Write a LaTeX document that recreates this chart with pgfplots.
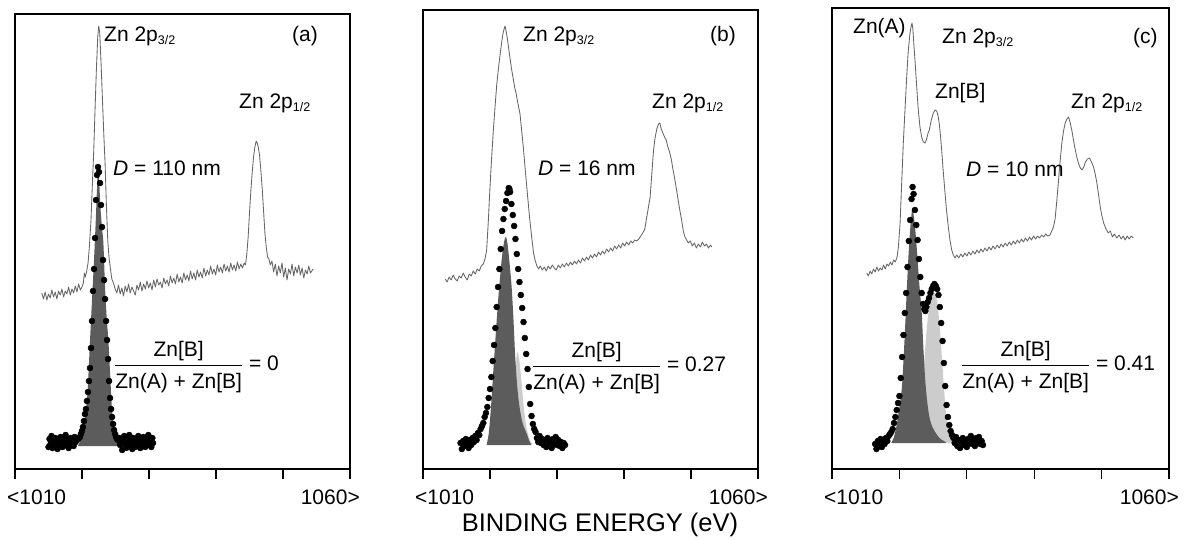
\documentclass[border=0pt]{standalone}
\usepackage{fontspec}
\setmainfont{Liberation Sans}
\usepackage{pgfplots}
\pgfplotsset{compat=1.18}

\definecolor{specline}{gray}{0.40}
\definecolor{darkfill}{gray}{0.36}
\definecolor{lightfill}{gray}{0.80}

\pgfplotsset{
  panel/.style={
    anchor=south west, scale only axis, width=335pt,
    xmin=1010, xmax=1060, ymin=0,
    xtick={1010,1020,...,1060}, xticklabels={}, ytick=\empty,
    xtick pos=left, tick align=outside, major tick length=10pt,
    xtick style={line width=1.3pt, black},
    axis line style={line width=2.4pt, black},
    clip=false,
  },
  spec/.style={specline, line width=0.85pt, line join=round, mark=none},
  dots/.style={only marks, mark=*, mark size=3pt, black},
  dark/.style={fill=darkfill, draw=none, mark=none},
  light/.style={fill=lightfill, draw=none, mark=none},
}
\newcommand{\sub}[1]{\raisebox{-0.3ex}{\fontsize{12.5}{13}\selectfont #1}}
\newcommand{\ratio}{$\displaystyle\frac{\mbox{Zn[B]}\rule[-3pt]{0pt}{3pt}}{\rule{0pt}{22pt}\mbox{Zn(A) + Zn[B]}}$}

\begin{document}
\begin{tikzpicture}[x=1pt, y=1pt,
  every node/.style={inner sep=0pt, font=\fontsize{21}{25}\selectfont}]
\useasboundingbox (0,0) rectangle (1186,-539);

% ---------------- (a) D = 110 nm
\begin{axis}[panel, at={(15pt,-469pt)}, height=455pt, ymax=455]
\addplot[spec] coordinates {
(1014.0,176)(1014.25,170)(1014.5,177)(1014.75,169)(1015.0,175)(1015.25,171)(1015.5,179)(1015.75,172)
(1016.0,177)(1016.25,170)(1016.5,178)(1016.75,174)(1017.0,180)(1017.25,172)(1017.5,178)(1017.75,175)
(1018.0,182)(1018.25,174)(1018.5,180)(1018.75,176)(1019.0,183)(1019.25,177)(1019.5,185)(1019.75,179)
(1020.0,182)(1020.2,186)(1020.35,196)(1020.5,192)
(1020.7,198)(1020.9,206)(1021.1,222)(1021.35,250)(1021.55,285)(1021.75,318)(1021.95,360)(1022.15,400)
(1022.35,432)(1022.5,443)(1022.65,436)(1022.85,405)(1023.05,370)(1023.25,335)(1023.45,305)(1023.65,262)
(1023.85,228)(1024.05,210)(1024.25,200)(1024.45,190)(1024.7,186)(1024.95,180)
(1025.2,176)(1025.45,184)(1025.7,175)(1025.95,181)(1026.2,173)(1026.45,183)(1026.7,177)(1026.95,185)
(1027.2,176)(1027.45,182)(1027.7,178)(1027.95,174)(1028.2,184)(1028.45,179)(1028.7,187)(1028.95,178)
(1029.2,185)(1029.45,180)(1029.7,188)(1029.95,181)(1030.2,186)(1030.45,179)(1030.7,189)(1030.95,182)
(1031.2,190)(1031.45,184)(1031.7,187)(1031.95,181)(1032.2,191)(1032.45,185)(1032.7,189)(1032.95,183)
(1033.2,193)(1033.45,186)(1033.7,191)(1033.95,185)(1034.2,195)(1034.45,187)(1034.7,192)(1034.95,186)
(1035.2,196)(1035.45,189)(1035.7,194)(1035.95,188)(1036.2,198)(1036.45,190)(1036.7,196)(1036.95,189)
(1037.2,199)(1037.45,192)(1037.7,197)(1037.95,191)(1038.2,201)(1038.45,193)(1038.7,199)(1038.95,194)
(1039.2,203)(1039.45,195)(1039.7,200)(1039.95,194)(1040.2,204)(1040.45,197)(1040.7,202)(1040.95,196)
(1041.2,205)(1041.45,198)(1041.7,203)(1041.95,197)(1042.2,206)(1042.45,199)(1042.7,204)(1042.95,198)
(1043.2,207)(1043.45,200)(1043.7,205)(1043.95,201)(1044.2,206)(1044.4,204)
(1044.6,215)(1044.8,232)(1045.0,256)(1045.2,278)(1045.4,296)(1045.6,312)(1045.8,322)
(1046.0,328)(1046.15,326)(1046.3,322)(1046.5,314)(1046.7,298)(1046.9,280)(1047.1,258)(1047.3,236)
(1047.5,222)(1047.7,212)(1047.9,210)
(1048.1,204)(1048.35,208)(1048.6,197)(1048.85,205)(1049.1,193)(1049.35,203)(1049.6,196)(1049.85,206)
(1050.1,192)(1050.35,201)(1050.6,189)(1050.85,200)(1051.1,195)(1051.35,205)(1051.6,193)(1051.85,202)
(1052.1,196)(1052.35,204)(1052.6,194)(1052.85,201)(1053.1,191)(1053.35,199)(1053.6,195)(1053.85,203)
(1054.1,196)(1054.5,200)};
\addplot[dark, smooth] coordinates {
(1019.4,23)(1019.8,30)(1020.2,40)(1020.5,55)(1020.8,74)(1021.0,100)(1021.2,129)(1021.5,170)
(1021.8,210)(1022.05,248)(1022.25,282)(1022.4,300)(1022.55,290)(1022.75,262)(1023.0,240)(1023.2,225)
(1023.45,180)(1023.7,150)(1023.95,127)(1024.2,95)(1024.45,62)(1024.7,46)(1025.0,36)(1025.5,30)
(1026.2,26)(1027.0,23)};
\addplot[dots] coordinates {
(1015.0,22)(1015.15,30)(1015.3,25)(1015.45,33)(1015.6,21)(1015.75,28)(1015.9,24)(1016.05,31)
(1016.2,26)(1016.35,20)(1016.5,29)(1016.65,25)(1016.8,32)(1016.95,27)(1017.1,22)(1017.25,30)
(1017.4,26)(1017.55,34)(1017.7,24)(1017.85,29)(1018.0,21)(1018.15,27)(1018.3,31)(1018.45,25)
(1018.6,29)(1018.75,23)(1018.9,32)(1019.05,27)(1019.2,31)
(1019.39,30)(1019.54,31)(1019.69,32)(1019.84,35)(1019.99,38)(1020.14,42)(1020.29,48)(1020.44,55)
(1020.59,60)(1020.74,68)(1020.89,77)(1021.04,88)(1021.19,101)(1021.34,121)(1021.49,148)(1021.64,178)
(1021.79,200)(1021.94,231)(1022.09,269)(1022.24,294)(1022.39,302)(1022.54,297)(1022.69,286)(1022.84,264)
(1022.99,242)(1023.14,209)(1023.29,189)(1023.44,170)(1023.59,148)(1023.74,129)(1023.89,110)(1024.04,88)
(1024.19,71)(1024.34,60)(1024.49,52)(1024.64,45)(1024.79,39)(1024.94,35)(1025.09,32)(1025.24,30)
(1025.39,29)
(1025.55,31)(1025.7,24)(1025.85,29)(1026.0,19)(1026.15,27)(1026.3,33)(1026.45,25)(1026.6,21)
(1026.75,30)(1026.9,26)(1027.05,34)(1027.2,23)(1027.35,28)(1027.5,20)(1027.65,31)(1027.8,26)
(1027.95,22)(1028.1,30)(1028.25,25)(1028.4,33)(1028.55,27)(1028.7,21)(1028.85,29)(1029.0,24)
(1029.15,32)(1029.3,26)(1029.45,22)(1029.6,30)(1029.75,27)(1029.9,34)(1030.05,24)(1030.2,29)
(1030.35,22)(1030.5,31)(1030.6,26)};
\end{axis}

% ---------------- (b) D = 16 nm
\begin{axis}[panel, at={(423pt,-469pt)}, height=459pt, ymax=459]
\addplot[spec] coordinates {
(1013.3,190)(1013.6,187)(1013.9,192)(1014.2,189)(1014.5,194)(1014.8,190)(1015.1,188)(1015.4,193)
(1015.7,191)(1016.0,196)(1016.3,192)(1016.6,189)(1016.9,195)(1017.2,193)(1017.5,198)(1017.8,195)
(1018.1,200)(1018.4,198)(1018.7,203)(1019.0,205)(1019.25,210)(1019.5,219)(1019.75,248)(1020.0,282)
(1020.25,312)(1020.5,339)(1020.75,362)(1021.0,384)(1021.25,400)(1021.5,414)(1021.75,427)(1021.95,436)
(1022.1,440)(1022.24,443)(1022.4,438)(1022.58,431)(1022.8,420)(1023.0,410)(1023.24,399)(1023.5,389)
(1023.7,381)(1023.88,376)(1024.1,368)(1024.3,361)(1024.48,355)(1024.7,340)(1024.97,322)(1025.25,300)
(1025.57,276)(1025.9,252)(1026.22,232)(1026.5,216)(1026.72,209)(1027.0,203)(1027.25,200)
(1027.5,203)(1027.8,199)(1028.1,202)(1028.4,198)(1028.7,203)(1029.0,200)(1029.3,204)(1029.6,201)
(1029.9,199)(1030.2,204)(1030.5,201)(1030.8,205)(1031.1,202)(1031.4,206)(1031.7,203)(1032.0,207)
(1032.3,204)(1032.6,208)(1032.9,205)(1033.2,209)(1033.5,206)(1033.8,211)(1034.1,208)(1034.4,212)
(1034.7,209)(1035.0,214)(1035.3,211)(1035.6,215)(1035.9,212)(1036.2,217)(1036.5,214)(1036.8,218)
(1037.1,215)(1037.4,220)(1037.7,217)(1038.0,221)(1038.3,218)(1038.6,223)(1038.9,220)(1039.2,224)
(1039.5,221)(1039.8,226)(1040.1,223)(1040.4,227)(1040.7,224)(1041.0,228)(1041.3,226)(1041.6,229)
(1041.9,228)(1042.2,230)(1042.5,233)(1042.8,236)(1043.1,240)(1043.4,252)(1043.65,262)(1043.9,272)
(1044.15,295)(1044.4,318)(1044.65,332)(1044.9,340)(1045.15,345)(1045.35,346)(1045.55,340)(1045.8,336)
(1046.05,332)(1046.3,329)(1046.55,322)(1046.8,317)(1047.05,310)(1047.3,300)(1047.55,291)(1047.85,279)
(1048.1,268)(1048.35,258)(1048.6,249)(1048.85,238)(1049.1,232)(1049.35,229)(1049.6,226)(1049.9,228)
(1050.2,223)(1050.5,226)(1050.8,221)(1051.1,225)(1051.4,222)(1051.7,227)(1052.0,223)(1052.3,225)
(1052.6,221)(1052.9,224)(1053.1,222)};
\addplot[light, smooth] coordinates {
(1022.4,25)(1022.7,32)(1023.0,42)(1023.3,60)(1023.6,85)(1023.85,106)(1024.1,117)(1024.35,110)
(1024.6,95)(1024.85,76)(1025.1,58)(1025.35,45)(1025.6,37)(1025.85,31)(1026.1,27)(1026.4,25)};
\addplot[dark, smooth] coordinates {
(1019.5,24)(1019.8,35)(1020.0,49)(1020.25,72)(1020.5,99)(1020.75,124)(1021.0,149)(1021.25,172)
(1021.5,192)(1021.75,210)(1022.0,223)(1022.2,230)(1022.4,232)(1022.6,226)(1022.8,214)(1023.0,200)
(1023.25,180)(1023.5,150)(1023.75,114)(1024.0,88)(1024.25,70)(1024.5,58)(1024.75,49)(1025.0,43)
(1025.25,39)(1025.5,35)(1025.75,30)(1026.0,26)(1026.2,24)};
\addplot[dots] coordinates {
(1015.6,26)(1015.8,20)(1016.0,28)(1016.2,23)(1016.4,30)(1016.6,25)(1016.8,21)(1017.0,29)
(1017.2,24)(1017.4,31)(1017.6,27)(1017.8,33)(1018.0,29)(1018.2,36)(1018.4,34)
(1018.6,40)(1018.8,43)(1019.0,46)(1019.2,52)(1019.4,56)(1019.6,62)(1019.8,71)(1020.0,80)
(1020.2,92)(1020.4,108)(1020.6,124)(1020.8,141)(1021.0,162)(1021.2,182)(1021.4,200)(1021.6,220)
(1021.8,238)(1022.0,250)(1022.2,260)(1022.4,268)(1022.6,276)(1022.8,281)(1022.9,280)
(1023.0,277)(1023.2,265)(1023.4,254)(1023.6,243)(1023.8,230)(1024.0,215)(1024.2,200)(1024.4,187)
(1024.6,174)(1024.8,161)(1025.0,147)(1025.2,131)(1025.4,115)(1025.6,100)(1025.8,82)(1026.0,65)
(1026.2,53)(1026.4,45)(1026.6,40)(1026.8,37)(1027.0,31)
(1027.2,27)(1027.4,33)(1027.6,26)(1027.8,30)(1028.0,24)(1028.2,29)(1028.4,22)(1028.6,31)
(1028.8,26)(1029.0,28)(1029.2,21)(1029.4,30)(1029.6,25)(1029.8,32)(1030.0,24)(1030.2,29)
(1030.4,23)(1030.6,27)(1030.8,21)(1031.0,26)(1031.2,24)};
\end{axis}

% ---------------- (c) D = 10 nm
\begin{axis}[panel, at={(832pt,-469pt)}, width=337pt, height=461pt, ymax=461]
\addplot[spec] coordinates {
(1015.15,196)(1015.4,193)(1015.65,198)(1015.9,195)(1016.15,200)(1016.4,197)(1016.65,202)(1016.9,198)
(1017.15,201)(1017.4,199)(1017.65,204)(1017.9,200)(1018.15,205)(1018.4,203)(1018.65,207)(1018.9,204)
(1019.15,209)(1019.4,207)(1019.65,212)(1019.85,222)(1020.1,246)(1020.35,288)(1020.58,326)(1020.85,362)
(1021.08,392)(1021.3,417)(1021.57,436)(1021.75,443)(1021.87,446)(1022.0,440)(1022.15,424)(1022.31,409)
(1022.55,384)(1022.8,359)(1023.05,342)(1023.3,332)(1023.55,327)(1023.8,326)(1024.05,330)(1024.25,336)
(1024.44,339)(1024.7,348)(1025.03,356)(1025.3,359)(1025.53,358)(1025.75,353)(1025.92,345)(1026.1,333)
(1026.27,319)(1026.5,298)(1026.77,276)(1027.0,258)(1027.26,242)(1027.5,229)(1027.76,219)(1028.0,214)
(1028.25,211)(1028.5,214)(1028.8,211)(1029.1,215)(1029.4,212)(1029.7,216)(1030.0,213)(1030.3,217)
(1030.6,214)(1030.9,218)(1031.2,215)(1031.5,219)(1031.8,216)(1032.1,220)(1032.4,217)(1032.7,221)
(1033.0,218)(1033.3,222)(1033.6,219)(1033.9,223)(1034.2,220)(1034.5,224)(1034.8,221)(1035.1,225)
(1035.4,222)(1035.7,226)(1036.0,223)(1036.3,227)(1036.6,224)(1036.9,228)(1037.2,225)(1037.5,229)
(1037.8,226)(1038.1,230)(1038.4,227)(1038.7,231)(1039.0,228)(1039.3,232)(1039.6,229)(1039.9,233)
(1040.2,230)(1040.5,233)(1040.8,231)(1041.1,234)(1041.4,232)(1041.7,235)(1042.0,233)(1042.35,234)
(1042.6,238)(1042.85,242)(1043.1,250)(1043.35,268)(1043.6,288)(1043.85,308)(1044.1,326)(1044.35,338)
(1044.6,346)(1044.85,350)(1045.1,352)(1045.35,346)(1045.6,338)(1045.85,328)(1046.1,319)(1046.35,311)
(1046.6,305)(1046.85,301)(1047.1,299)(1047.35,302)(1047.6,307)(1047.9,310)(1048.2,311)(1048.5,307)
(1048.8,302)(1049.05,295)(1049.3,286)(1049.55,274)(1049.8,262)(1050.05,253)(1050.3,246)(1050.65,240)
(1051.0,236)(1051.3,238)(1051.6,232)(1051.9,235)(1052.25,231)(1052.6,234)(1052.9,230)(1053.2,233)
(1053.5,229)(1053.8,233)(1054.1,230)(1054.4,233)(1054.7,231)};
\addplot[light, smooth] coordinates {
(1022.3,28)(1022.7,38)(1023.0,52)(1023.3,75)(1023.55,96)(1023.8,118)(1024.05,140)(1024.35,158)
(1024.7,170)(1025.0,175)(1025.3,176)(1025.6,168)(1025.85,152)(1026.1,132)(1026.35,107)(1026.6,82)
(1026.85,60)(1027.1,44)(1027.4,33)(1027.7,28)(1028.0,26)};
\addplot[dark, smooth] coordinates {
(1018.8,26)(1019.2,32)(1019.6,44)(1019.95,60)(1020.35,80)(1020.6,108)(1020.85,142)(1021.1,180)
(1021.35,214)(1021.6,240)(1021.9,260)(1022.15,252)(1022.4,236)(1022.65,214)(1022.9,190)(1023.1,173)
(1023.3,158)(1023.55,122)(1023.8,92)(1024.05,72)(1024.3,58)(1024.55,49)(1024.9,42)(1025.3,37)
(1025.7,33)(1026.1,30)(1026.6,28)(1027.0,26)};
\addplot[dots] coordinates {
(1016.4,25)(1016.6,20)(1016.8,28)(1017.0,23)(1017.2,30)(1017.4,22)(1017.6,27)(1017.8,25)
(1018.0,31)(1018.2,28)(1018.4,33)(1018.6,35)
(1018.8,37)(1019.0,40)(1019.2,46)(1019.4,52)(1019.6,59)(1019.8,66)(1020.0,73)(1020.2,91)
(1020.4,112)(1020.6,134)(1020.8,156)(1021.0,176)(1021.2,202)(1021.4,228)(1021.6,249)(1021.8,270)
(1021.95,282)(1022.1,275)
(1022.3,259)(1022.5,244)(1022.7,229)(1022.9,210)(1023.1,192)(1023.3,176)(1023.5,165)(1023.7,160)
(1023.85,158)(1024.0,162)(1024.2,167)(1024.4,171)(1024.6,176)(1024.8,180)(1025.0,183)(1025.2,185)
(1025.4,183)(1025.6,180)(1025.8,174)(1026.0,162)(1026.2,146)(1026.4,128)(1026.6,106)(1026.8,83)
(1027.0,64)(1027.2,52)(1027.4,44)(1027.6,38)(1027.8,34)(1028.0,31)
(1028.2,26)(1028.4,32)(1028.6,23)(1028.8,29)(1029.0,21)(1029.2,27)(1029.4,31)(1029.6,24)
(1029.8,29)(1030.0,22)(1030.2,30)(1030.4,26)(1030.6,33)(1030.8,25)(1031.0,29)(1031.2,23)
(1031.4,31)(1031.6,27)(1031.8,32)(1032.0,25)(1032.2,28)(1032.4,24)};
\end{axis}

% ---------------- labels, panel (a)
\node[anchor=west] at (104,-36) {Zn 2p\sub{3/2}};
\node[anchor=west] at (292,-36) {(a)};
\node[anchor=west] at (239,-103) {Zn 2p\sub{1/2}};
\node[anchor=west] at (113,-168) {\textit{D} = 110 nm};
\node[anchor=west] at (114,-367) {\ratio\ = 0};
% panel (b)
\node[anchor=west] at (523,-36) {Zn 2p\sub{3/2}};
\node[anchor=west] at (710,-36) {(b)};
\node[anchor=west] at (652,-103) {Zn 2p\sub{1/2}};
\node[anchor=west] at (538,-168) {\textit{D} = 16 nm};
\node[anchor=west] at (532,-368) {\ratio\ = 0.27};
% panel (c)
\node[anchor=west] at (853,-28) {Zn(A)};
\node[anchor=west] at (942,-38) {Zn 2p\sub{3/2}};
\node[anchor=west] at (1133,-38) {(c)};
\node[anchor=west] at (935,-93) {Zn[B]};
\node[anchor=west] at (1071,-103) {Zn 2p\sub{1/2}};
\node[anchor=west] at (966,-169) {\textit{D} = 10 nm};
\node[anchor=west] at (961,-367) {\ratio\ = 0.41};

% tick labels and axis title
\foreach \l/\r in {15/350, 423/758, 832/1169} {
  \node[anchor=west] at (\l-8,-497) {<1010};
  \node[anchor=east] at (\r+10,-497) {1060>};
}
\node[font=\fontsize{25.5}{30}\selectfont] at (600,-525) {BINDING ENERGY (eV)};
\end{tikzpicture}
\end{document}
